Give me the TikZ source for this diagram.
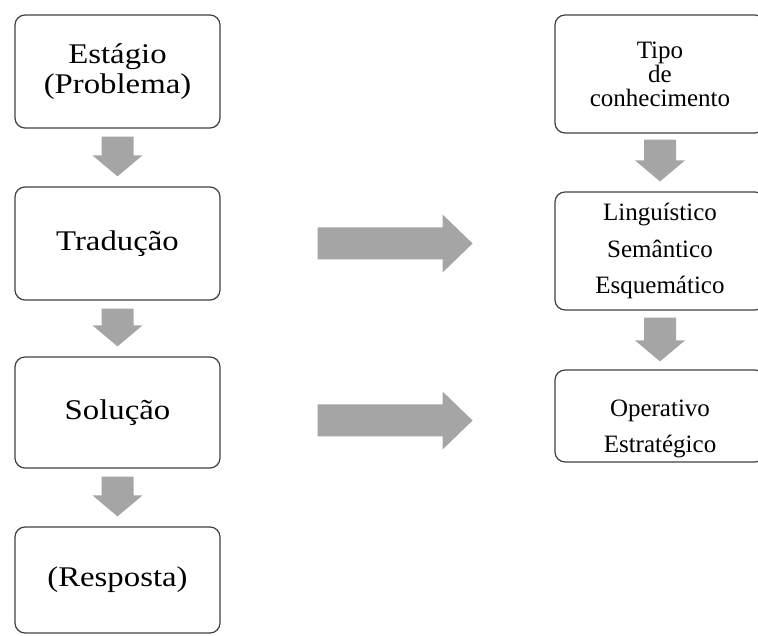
\documentclass[tikz,border=0pt]{standalone}
\usepackage{fontspec}
\setmainfont{Liberation Serif}
\newfontfamily\widefont[FakeStretch=1.15]{Liberation Serif}
\usetikzlibrary{calc}

\definecolor{arrowgrey}{HTML}{A5A5A5}
\definecolor{boxline}{HTML}{404040}

% grey block arrows, from start point to tip
\newcommand{\flowdown}[2]{%
  \fill[arrowgrey] let \p1=(#1), \p2=(#2) in
    (\x1-16,\y1) -- (\x1+16,\y1) -- (\x1+16,\y2+21) -- (\x1+25,\y2+21)
    -- (\x1,\y2) -- (\x1-25,\y2+21) -- (\x1-16,\y2+21) -- cycle;}
\newcommand{\flowright}[2]{%
  \fill[arrowgrey] let \p1=(#1), \p2=(#2) in
    (\x1,\y1+16) -- (\x2-30,\y1+16) -- (\x2-30,\y1+29) -- (\x2,\y1)
    -- (\x2-30,\y1-29) -- (\x2-30,\y1-16) -- (\x1,\y1-16) -- cycle;}

\begin{document}
\begin{tikzpicture}[x=1pt, y=1pt,
    stage/.style={draw=boxline, line width=1.2pt, rounded corners=10pt,
      minimum width=205pt, minimum height=113pt, align=center,
      font=\widefont\fontsize{28.5}{30}\selectfont},
    kind/.style={draw=boxline, line width=1.2pt, rounded corners=10pt,
      minimum width=210pt, minimum height=118pt, align=center,
      font=\fontsize{25}{36.5}\selectfont}]
    \useasboundingbox (0,0) rectangle (758,635);
    \clip (0,0) rectangle (758,635);

    % stages of the problem
    \node[stage] (st1) at (117.5,563.5) {Estágio\\(Problema)};
    \node[stage] (st2) at (117.5,391.5) {Tradução};
    \node[stage, minimum height=111pt] (st3) at (117.5,222.5) {Solução};
    \node[stage, minimum height=106pt] (st4) at (117.5,55) {(Resposta)};

    % kinds of knowledge
    \node[kind, font=\fontsize{25}{24}\selectfont] (kn1) at (660,561)
        {Tipo\\de\\conhecimento};
    \node[kind] (kn2) at (660,384) {Linguístico\\Semântico\\Esquemático};
    \node[kind, minimum height=92pt] (kn3) at (660,219)
        {\mbox{}\\[6pt]Operativo\\Estratégico};

    \flowdown{$(st1.south)+(0,-8)$}{$(st2.north)+(0,10)$}
    \flowdown{$(st2.south)+(0,-8)$}{$(st3.north)+(0,10)$}
    \flowdown{$(st3.south)+(0,-8)$}{$(st4.north)+(0,10)$}
    \flowdown{$(kn1.south)+(0,-6)$}{$(kn2.north)+(0,10)$}
    \flowdown{$(kn2.south)+(0,-7)$}{$(kn3.north)+(0,8)$}

    \flowright{$(st2.east)+(97,0)$}{$(st2.east)+(252,0)$}
    \flowright{$(st3.east)+(97,-8)$}{$(st3.east)+(252,-8)$}
\end{tikzpicture}
\end{document}
